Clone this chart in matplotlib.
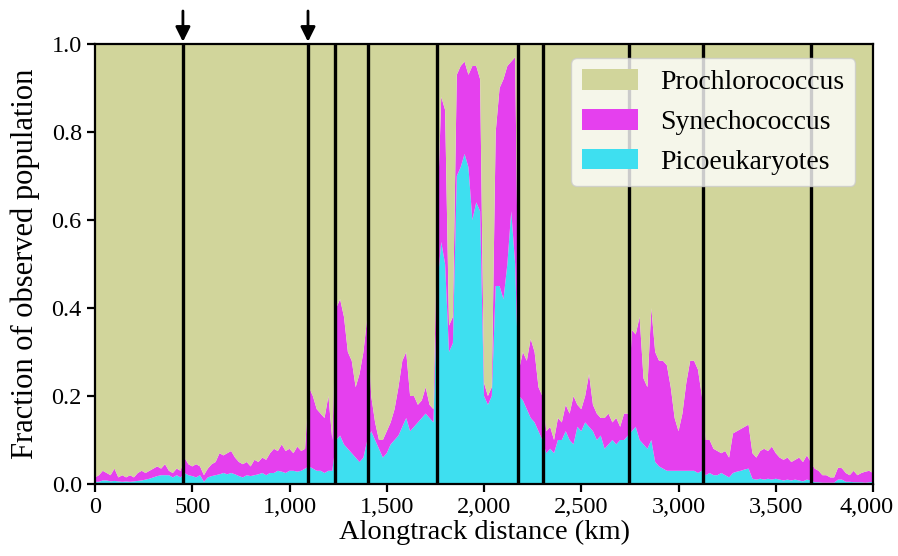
import numpy as np
import matplotlib
matplotlib.use('Agg')
import matplotlib.pyplot as plt
import matplotlib.transforms as mtransforms

plt.rcParams['font.family'] = ['Liberation Serif', 'DejaVu Serif']

# sample positions along track (km), one every 20 km
dist = np.arange(0, 4001, 20)

# Picoeukaryotes fraction (bottom layer)
pico = [
    .005, .005, .008, .008, .006, .007, .006, .005, .006, .005,
    .006, .007, .008, .01, .012, .015, .018, .02, .02, .02,
    .015, .02, .015, .025, .02, .018, .015, .02, .005, .015,
    .018, .02, .022, .025, .022, .025, .022, .018, .015, .02,
    .018, .02, .022, .025, .02, .025, .025, .03, .028, .025,
    .03, .03, .028, .03, .035, .04, .035, .03, .03, .025,
    .03, .03, .1, .11, .09, .08, .07, .06, .05, .06,
    .1, .12, .1, .08, .06, .07, .09, .1, .11, .13,
    .15, .12, .13, .14, .15, .16, .15, .14, .45, .55,
    .5, .3, .32, .7, .72, .75, .72, .6, .64, .62,
    .2, .18, .2, .45, .45, .42, .5, .62, .5, .2,
    .19, .17, .15, .14, .12, .1, .07, .08, .07, .1,
    .1, .12, .1, .09, .13, .12, .14, .13, .12, .1,
    .11, .08, .09, .1, .09, .1, .1, .11, .12, .13,
    .1, .09, .08, .1, .05, .04, .035, .03, .03, .03,
    .03, .03, .03, .03, .03, .025, .03, .02, .025, .02,
    .02, .025, .02, .015, .025, .028, .03, .033, .035, .012,
    .01, .012, .01, .012, .01, .012, .01, .008, .01, .008,
    .01, .008, .006, .01, .008, .004, .004, .003, .003, .003,
    .003, .01, .01, .005, .005, .004, .004, .004, .003, .004,
    .005,
]

# top of the Synechococcus layer (pico + syn)
pico_syn = [
    .015, .02, .03, .025, .02, .035, .015, .02, .015, .02,
    .015, .025, .03, .025, .03, .035, .04, .035, .045, .03,
    .025, .035, .03, .06, .045, .04, .045, .04, .02, .035,
    .045, .05, .07, .065, .07, .075, .06, .05, .045, .05,
    .04, .055, .05, .06, .055, .07, .08, .075, .09, .075,
    .08, .07, .085, .075, .08, .22, .2, .17, .16, .15,
    .2, .1, .4, .42, .38, .3, .28, .22, .25, .3,
    .38, .2, .14, .1, .1, .12, .14, .17, .22, .28,
    .3, .2, .2, .18, .19, .22, .18, .17, .6, .88,
    .85, .36, .38, .93, .95, .96, .93, .95, .95, .92,
    .23, .2, .22, .8, .9, .92, .95, .96, .97, .26,
    .3, .28, .33, .3, .22, .2, .12, .13, .1, .15,
    .14, .18, .16, .2, .18, .17, .2, .25, .18, .16,
    .15, .15, .16, .14, .15, .13, .16, .16, .35, .34,
    .38, .24, .22, .4, .3, .28, .28, .27, .22, .15,
    .12, .16, .23, .28, .28, .26, .2, .1, .1, .08,
    .075, .07, .075, .06, .115, .12, .125, .13, .135, .07,
    .06, .075, .08, .075, .085, .07, .06, .055, .06, .05,
    .055, .06, .05, .065, .05, .035, .03, .02, .02, .015,
    .015, .037, .036, .025, .02, .03, .02, .025, .028, .03,
    .025,
]

# region boundaries (km) and the two marked with arrows
boundaries = [452, 1095, 1234, 1404, 1758, 2175, 2303, 2746, 3126, 3681]
arrows = [452, 1095]

names = ['Picoeukaryotes', 'Synechococcus', 'Prochlorococcus']
colors = ['#3edff0', '#e540ee', '#d1d59b']

pico = np.array(pico)
syn = np.array(pico_syn) - pico
pro = 1 - np.array(pico_syn)

fig = plt.figure(figsize=(8.98, 5.56), dpi=100)
ax = fig.add_axes([0.1058, 0.1295, 0.8664, 0.7914])

polys = ax.stackplot(dist, pico, syn, pro, colors=colors, labels=names)

for b in boundaries:
    ax.axvline(b, color='k', lw=2.4)

for a in arrows:
    ax.annotate('', xy=(a, 1.005), xytext=(a, 1.075), xycoords='data',
                annotation_clip=False,
                arrowprops=dict(arrowstyle='-|>', color='k', lw=2,
                                mutation_scale=22, shrinkA=0, shrinkB=0))

ax.set_xlim(0, 4000)
ax.set_ylim(0, 1)
ax.set_xticks(range(0, 4001, 500))
ax.set_xticklabels(['{:,}'.format(v) for v in range(0, 4001, 500)])
ax.set_yticks([0, .2, .4, .6, .8, 1.0])
ax.tick_params(labelsize=17.5, width=1.6, length=6)
for s in ax.spines.values():
    s.set_linewidth(1.6)

# last tick label sits at the figure edge, nudge it in a bit
last = ax.get_xticklabels()[-1]
last.set_transform(last.get_transform() +
                   mtransforms.ScaledTranslation(-5 / 72, 0, fig.dpi_scale_trans))

ax.set_xlabel('Alongtrack distance (km)', fontsize=20.5, labelpad=1)
ax.set_ylabel('Fraction of observed population', fontsize=22, labelpad=8)

h, l = ax.get_legend_handles_labels()
ax.legend(h[::-1], l[::-1], loc='upper right', fontsize=20,
          handleheight=0.75, bbox_to_anchor=(0.995, 0.999))

fig.savefig('out.png', dpi=100)
